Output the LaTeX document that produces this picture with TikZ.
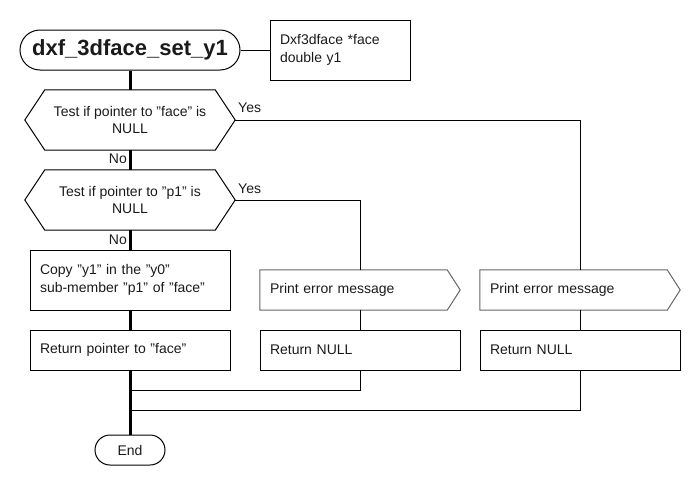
\documentclass[tikz,border=0pt]{standalone}
\usepackage{fontspec}
\setmainfont{Liberation Sans}
\definecolor{pegray}{HTML}{666666}
\definecolor{txt}{HTML}{1A1A1A}
\begin{document}
\begin{tikzpicture}[x=1pt,y=-1pt,
  every node/.style={font=\fontsize{14}{17.5}\selectfont, text=txt},
  box/.style={draw, line width=1pt, minimum height=#1, inner sep=0pt},
  lbox/.style={draw, line width=1pt, minimum height=40pt, text width=180pt, inner xsep=10pt, inner ysep=0pt, align=left},
  hid/.style={inner sep=0pt, align=center},
  thick line/.style={line width=3pt},
  thin line/.style={line width=1pt},
  lbl/.style={inner sep=0pt, font=\fontsize{14}{17}\selectfont}
]
\useasboundingbox (0,0) rectangle (700,490);

% title and parameters
\node[draw, line width=1pt, rounded corners=20pt, minimum width=220pt, minimum height=40pt, inner sep=0pt, font=\fontsize{22}{26}\selectfont\bfseries] (title) at (130,50) {dxf\_3dface\_set\_y1};
\node[draw, line width=1pt, minimum width=140pt, minimum height=60pt, text width=120pt, inner xsep=10pt, align=left] (params) at (340,50) {Dxf3dface *face\\double y1};

% decisions
\node[minimum width=210pt, minimum height=60pt, inner sep=0pt, align=center] (d1) at (130,120) {Test if pointer to "face" is\\NULL};
\node[minimum width=210pt, minimum height=60pt, inner sep=0pt, align=center] (d2) at (130,200) {Test if pointer to "p1" is\\NULL};
\foreach \d in {d1,d2}{
  \draw[thin line] ([xshift=20pt]\d.north west) -- ([xshift=-20pt]\d.north east) -- (\d.east) -- ([xshift=-20pt]\d.south east) -- ([xshift=20pt]\d.south west) -- (\d.west) -- cycle;
}

% actions
\node[lbox, minimum height=60pt] (copy) at (130,280) {Copy "y1" in the "y0"\\sub-member "p1" of "face"};
\node[lbox] (retp) at (130,350) {Return pointer to "face"};
\node[minimum width=200pt, minimum height=40pt, text width=180pt, inner xsep=10pt, inner ysep=0pt, align=left] (pe1) at (360,290) {Print error message};
\node[minimum width=200pt, minimum height=40pt, text width=180pt, inner xsep=10pt, inner ysep=0pt, align=left] (pe2) at (580,290) {Print error message};
\foreach \p in {pe1,pe2}{
  \draw[thin line, draw=pegray] (\p.north west) -- ([xshift=-13pt]\p.north east) -- (\p.east) -- ([xshift=-13pt]\p.south east) -- (\p.south west) -- cycle;
}
\node[lbox] (rn1) at (360,350) {Return NULL};
\node[lbox] (rn2) at (580,350) {Return NULL};

% end
\node[draw, line width=1pt, rounded corners=15pt, minimum width=70pt, minimum height=30pt, inner sep=0pt] (end) at (130,450) {End};

% junctions
\coordinate (j1) at (130,390);
\coordinate (j2) at (130,410);

% connectors
\draw[thin line] (title.east) -- (params.west);
\draw[thick line] (title.south) -- (d1.north);
\draw[thick line] (d1.south) -- (d2.north);
\draw[thick line] (d2.south) -- (copy.north);
\draw[thick line] (copy.south) -- (retp.north);
\draw[thick line] (retp.south) -- (end.north);
\draw[thin line] (d1.east) -| (pe2.north);
\draw[thin line] (d2.east) -| (pe1.north);
\draw[thin line] (pe1.south) -- (rn1.north);
\draw[thin line] (pe2.south) -- (rn2.north);
\draw[thin line] (rn1.south) |- (j1);
\draw[thin line] (rn2.south) |- (j2);

% labels
\node[lbl, anchor=west] (y1) at (238,108) {Yes};
\node[lbl, anchor=west] (y2) at (238,189) {Yes};
\node[lbl, anchor=east] (n1) at (127,159) {No};
\node[lbl, anchor=east] (n2) at (127,240) {No};
\end{tikzpicture}
\end{document}
